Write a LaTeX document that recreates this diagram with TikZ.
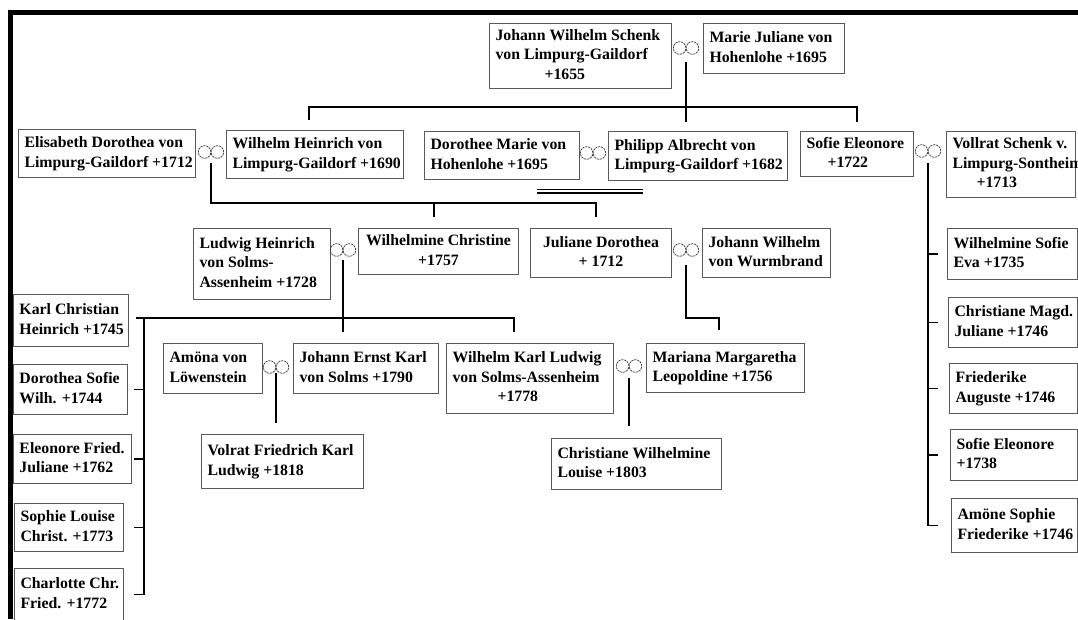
\documentclass[tikz,border=0pt]{standalone}
\usepackage{fontspec}
\setmainfont{Liberation Serif}
\tikzset{
  x=1pt, y=-1pt,
  pbox/.style={draw=black!65, line width=1pt, inner xsep=6pt, inner ysep=0pt, fill=white,
    font=\fontsize{15.8}{19.5}\selectfont\bfseries},
  conn/.style={draw=black, line width=1.8pt},
  marr/.style={minimum width=30pt, minimum height=17pt, inner sep=0pt,
    path picture={\draw[black!80, line width=0.7pt, dash pattern=on 2.2pt off 0.8pt]
      ([xshift=-6.4pt]path picture bounding box.center) circle (6.3pt)
      ([xshift=6.4pt]path picture bounding box.center) circle (6.3pt);}},
  dbl/.style={draw=black, line width=1.3pt}
}
\newcommand\pb[7][l]{\node[pbox,minimum width=#5pt,minimum height=#6pt,anchor=north west] (#2) at (#3,#4)
  {\makebox[\dimexpr#5pt-12pt\relax][#1]{\begin{tabular}{@{}#1@{}}#7\end{tabular}}};}
\begin{document}
\begin{tikzpicture}
\useasboundingbox (0,0) rectangle (1078,619);
\clip (0,0) rectangle (1078,619);
\fill[white] (0,0) rectangle (1078,619);
% frame
\fill[black] (8,10) rectangle (1078,15);
\fill[black] (8,10) rectangle (13,619);

% generation 1
\pb{jws}{489}{23}{182}{65}{Johann Wilhelm Schenk\\von Limpurg-Gaildorf\\\hspace*{49pt}+1655}
\pb{mjh}{703}{23}{141}{50}{Marie Juliane von\\Hohenlohe +1695}
\node[marr] (m0) at (686,48) {};

% generation 2
\pb{edl}{18}{129}{177}{48}{Elisabeth Dorothea von\\Limpurg-Gaildorf +1712}
\node[marr] (m1) at (211,152) {};
\pb{whl}{226}{130}{177}{48}{Wilhelm Heinrich von\\Limpurg-Gaildorf +1690}
\pb{dmh}{424}{131}{155}{48}{Dorothee Marie von\\Hohenlohe +1695}
\node[marr] (m2) at (593,153) {};
\pb{pal}{608}{131}{179}{49}{Philipp Albrecht von\\Limpurg-Gaildorf +1682}
\pb{sel}{800}{131}{113}{45}{Sofie Eleonore\\\hspace*{21pt}+1722}
\node[marr] (m3) at (928,151) {};
\pb{vsl}{946}{131}{129}{66}{Vollrat Schenk v.\\Limpurg-Sontheim\\\hspace*{24pt}+1713}

% generation 3
\pb{lhs}{193}{228}{137}{71}{Ludwig Heinrich\\von Solms-\\Assenheim +1728}
\node[marr] (m4) at (343,250) {};
\pb[c]{wch}{358}{228}{160}{46}{Wilhelmine Christine\\+1757}
\pb[c]{jdo}{530}{228}{141}{49}{Juliane Dorothea\\+ 1712}
\node[marr] (m5) at (686,250) {};
\pb{jww}{702}{228}{128}{49}{Johann Wilhelm\\von Wurmbrand}

% right column (children of Sofie Eleonore)
\pb{wse}{947}{228}{130}{51}{Wilhelmine Sofie\\Eva +1735}
\pb{cmj}{948}{297}{129}{50}{Christiane Magd.\\Juliane +1746}
\pb{fau}{949}{363}{128}{50}{Friederike\\Auguste +1746}
\pb{se2}{950}{429}{127}{51}{Sofie Eleonore\\+1738}
\pb{ase}{951}{498}{126}{54}{Amöne Sophie\\Friederike +1746}

% left column
\pb{kch}{13}{294}{115}{52}{Karl Christian\\Heinrich +1745}
\pb{dsw}{13}{364}{114}{50}{Dorothea Sofie\\Wilh. +1744}
\pb{efj}{13}{434}{118}{49}{Eleonore Fried.\\Juliane +1762}
\pb{slc}{14}{503}{109}{48}{Sophie Louise\\Christ. +1773}
\pb{ccf}{14}{568}{109}{52}{Charlotte Chr.\\Fried. +1772}

% generation 4
\pb{alw}{163}{343}{99}{50}{Amöna von\\Löwenstein}
\node[marr] (m6) at (276,367) {};
\pb{jek}{293}{343}{145}{50}{Johann Ernst Karl\\von Solms +1790}
\pb{wkl}{446}{343}{167}{70}{Wilhelm Karl Ludwig\\von Solms-Assenheim\\\hspace*{45pt}+1778}
\node[marr] (m7) at (629,366) {};
\pb{mml}{646}{343}{158}{49}{Mariana Margaretha\\Leopoldine +1756}

% generation 5
\pb{vfk}{201}{434}{162}{54}{Volrat Friedrich Karl\\Ludwig +1818}
\pb{cwl}{551}{438}{170}{51}{Christiane Wilhelmine\\Louise +1803}

% coordinates
\coordinate (b0L) at (309,107);
\coordinate (b0R) at (857,107);
\coordinate (b1L) at (211,203);
\coordinate (b1M) at (434,203);
\coordinate (b1R) at (596,203);
\coordinate (b4L) at (136,318);
\coordinate (b4R) at (514,318);
\coordinate (cLt) at (144,318);
\coordinate (cL) at (144,0);
\coordinate (tL) at (134,0);
\coordinate (tR) at (938,0);
\coordinate (b5a) at (686,318);
\coordinate (b5b) at (719,318);
\coordinate (dl) at (537,189.5);

% connectors
\draw[conn,shorten <=14pt,shorten >=9pt] (m0.center) -- (pal.north -| m0);
\draw[conn,shorten <=10pt,shorten >=9pt] (whl.north -| b0L) -- (b0L) -- (b0R) -- (sel.north -| b0R);

\draw[conn,shorten <=11pt,shorten >=11pt] (m1.center) -- (b1L) -- (b1R) -- (jdo.north -| b1R);
\draw[conn,shorten >=11pt] (b1M) -- (wch.north -| b1M);

\draw[dbl] (dl) -- ++(106,0);
\draw[dbl] ([yshift=-3.5pt]dl) -- ++(106,0);

\draw[conn,shorten <=12pt] (m3.center) -- (ase.west -| m3) -- (ase.west -| tR);
\foreach \n in {wse,cmj,fau,se2} \draw[conn] (\n.west -| m3) -- (\n.west -| tR);

\draw[conn,shorten <=10pt,shorten >=11pt] (m4.center) -- (jek.north -| m4);
\draw[conn,shorten >=11pt] (b4L) -- (b4R) -- (wkl.north -| b4R);
\draw[conn] (cLt) -- (ccf.east -| cL) -- (ccf.east -| tL);
\foreach \n in {dsw,efj,slc} \draw[conn] (\n.east -| tL) -- (\n.east -| cL);

\draw[conn,shorten <=15pt,shorten >=13pt] (m5.center) -- (b5a) -- (b5b) -- (mml.north -| b5b);

\draw[conn,shorten <=6pt,shorten >=11pt] (m6.center) -- (vfk.north -| m6);
\draw[conn,shorten <=12pt,shorten >=12pt] (m7.center) -- (cwl.north -| m7);
\end{tikzpicture}
\end{document}
